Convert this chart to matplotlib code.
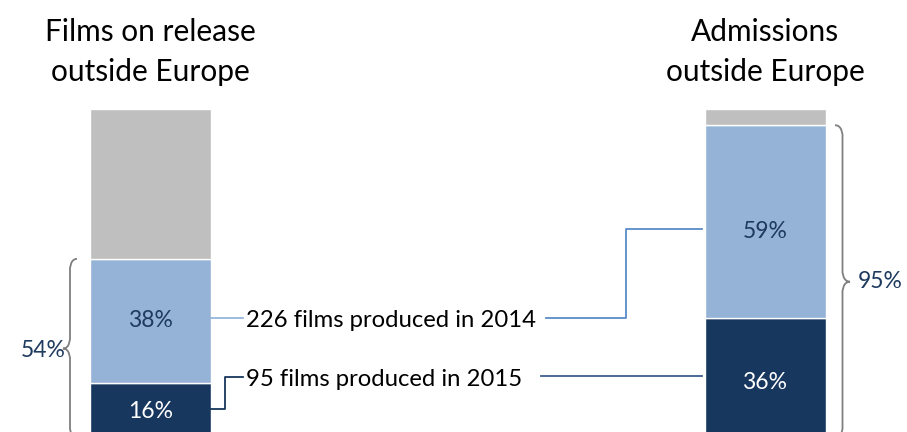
import matplotlib
matplotlib.use("Agg")
import matplotlib.pyplot as plt
from matplotlib.path import Path
from matplotlib.patches import PathPatch

plt.rcParams['font.family'] = ['Lato', 'DejaVu Sans']

# data (shares in %)
groups = ["Films on release\noutside Europe", "Admissions\noutside Europe"]
share_2015 = [16, 36]
share_2014 = [38, 59]
share_other = [46, 5]
notes = ["226 films produced in 2014", "95 films produced in 2015"]

c_dark = "#17375e"
c_light = "#95b3d7"
c_grey = "#bfbfbf"
c_text = "#1f3a5f"

fig = plt.figure(figsize=(9.07, 4.32), dpi=100)
ax = fig.add_axes([0, 0, 1, 1])
ax.set_xlim(0, 907)
ax.set_ylim(0.9, 133.4)
ax.axis("off")

xs = [150.5, 765]
w = 121
bottom2 = [a + b for a, b in zip(share_2015, share_2014)]
ax.bar(xs, share_2015, width=w, color=c_dark, edgecolor="white", linewidth=1)
ax.bar(xs, share_2014, width=w, bottom=share_2015, color=c_light, edgecolor="white", linewidth=1)
ax.bar(xs, share_other, width=w, bottom=bottom2, color=c_grey, edgecolor="white", linewidth=1)

# segment labels
fs = 16.5
ax.text(xs[0], share_2015[0] / 2 - 0.8, f"{share_2015[0]}%", ha="center", va="center", color="white", fontsize=fs)
ax.text(xs[0], share_2015[0] + share_2014[0] / 2, f"{share_2014[0]}%", ha="center", va="center", color=c_text, fontsize=fs)
ax.text(xs[1], share_2015[1] / 2 - 2, f"{share_2015[1]}%", ha="center", va="center", color="white", fontsize=fs)
ax.text(xs[1], share_2015[1] + share_2014[1] / 2 - 3, f"{share_2014[1]}%", ha="center", va="center", color=c_text, fontsize=fs)

# titles
for x, g in zip(xs, groups):
    ax.text(x, 133.4 - 5.6, g, ha="center", va="top", fontsize=21.5, color="black", linespacing=1.52)

# connectors and notes
lx = xs[0] + w / 2
rx = xs[1] - w / 2
y14_left = share_2015[0] + share_2014[0] / 2
y15_left = share_2015[0] / 2
y14_right = 63.2
y15_right = share_2015[1] / 2
ax.plot([lx, 243], [y14_left + 0.9, y14_left + 0.9], color="#8eb0da", lw=1.2)
ax.plot([546, 626, 626, rx - 3], [y14_left + 0.9, y14_left + 0.9, y14_right, y14_right], color="#5b8bc9", lw=1.3)
ax.plot([lx, 225, 225, 243], [y15_left, y15_left, 17.8, 17.8], color=c_dark, lw=1.3)
ax.plot([541, rx - 3], [y15_right, y15_right], color="#3b5f8c", lw=1.3)
ax.text(246, y14_left, notes[0], ha="left", va="center", fontsize=17.2, color="black")
ax.text(246, 17, notes[1], ha="left", va="center", fontsize=17.2, color="black")


def brace(x_tip, x_end, y0, y1, r=3.2):
    xm = (x_tip + x_end) / 2
    ym = (y0 + y1) / 2
    verts = [(x_end, y1), (xm, y1), (xm, y1 - r), (xm, y1 - r),
             (xm, ym + r), (xm, ym + r), (xm, ym), (x_tip, ym),
             (xm, ym), (xm, ym - r), (xm, ym - r),
             (xm, y0 + r), (xm, y0 + r), (xm, y0), (x_end, y0)]
    codes = [Path.MOVETO, Path.CURVE4, Path.CURVE4, Path.CURVE4,
             Path.LINETO, Path.CURVE4, Path.CURVE4, Path.CURVE4,
             Path.CURVE4, Path.CURVE4, Path.CURVE4,
             Path.LINETO, Path.CURVE4, Path.CURVE4, Path.CURVE4]
    ax.add_patch(PathPatch(Path(verts, codes), fill=False, edgecolor="#7f7f7f", lw=1.3))


brace(63, 77, -1, bottom2[0])
brace(850, 835, -1, bottom2[1])
ax.text(43, bottom2[0] / 2 - 1, f"{bottom2[0]}%", ha="center", va="center", fontsize=fs, color=c_text)
ax.text(880, bottom2[1] / 2 - 0.5, f"{bottom2[1]}%", ha="center", va="center", fontsize=fs, color=c_text)

fig.savefig("out.png", dpi=100)
